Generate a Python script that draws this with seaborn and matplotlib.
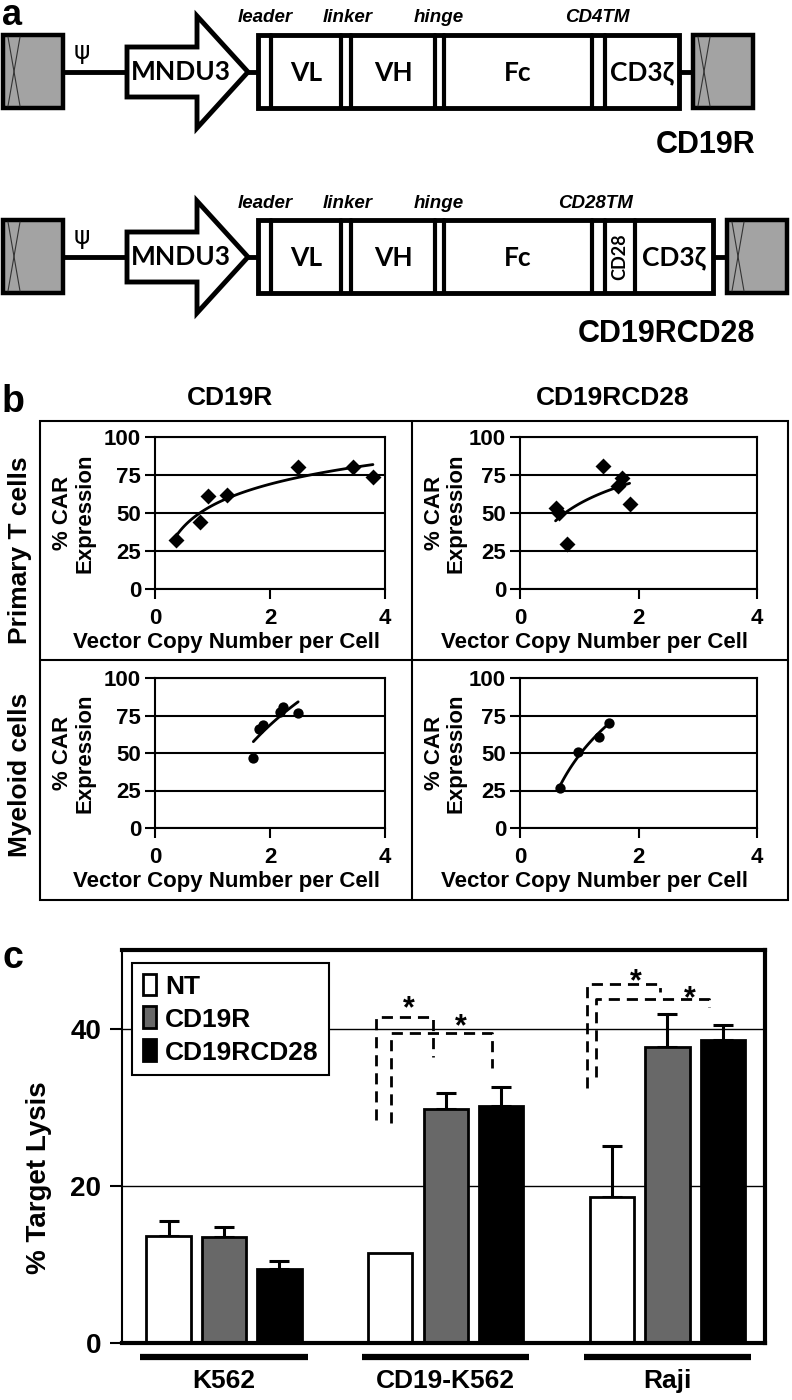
import numpy as np
import pandas as pd
import matplotlib
matplotlib.use('Agg')
import matplotlib.pyplot as plt
import matplotlib.transforms as mtransforms
from matplotlib.patches import Rectangle, Polygon
import seaborn as sns

# ---- panel b: vector copy number vs % CAR expression ----
pt_cd19r_vcn = [0.37, 0.78, 0.92, 1.25, 2.49, 3.44, 3.79]
pt_cd19r_car = [32, 44, 61, 62, 80, 80, 74]
pt_cd28_vcn = [0.60, 0.65, 0.80, 1.40, 1.65, 1.72, 1.85]
pt_cd28_car = [53, 50, 29.5, 81, 68, 73, 56]
my_cd19r_vcn = [1.71, 1.80, 1.87, 2.17, 2.23, 2.49]
my_cd19r_car = [47, 66, 69, 77.5, 81, 77]
my_cd28_vcn = [0.68, 0.98, 1.33, 1.50]
my_cd28_car = [27, 51, 61, 70]

# ---- panel c: % target lysis ----
targets = ['K562', 'CD19-K562', 'Raji']
groups = ['NT', 'CD19R', 'CD19RCD28']
lysis_nt = [13.6, 11.4, 18.6]
lysis_cd19r = [13.5, 29.8, 37.6]
lysis_cd28 = [9.4, 30.2, 38.5]
err_nt = [1.9, 0.0, 6.5]
err_cd19r = [1.3, 2.0, 4.3]
err_cd28 = [1.0, 2.4, 2.0]

sns.set_theme(style='white')
plt.rcParams['font.family'] = ['Liberation Sans', 'DejaVu Sans']
plt.rcParams['font.weight'] = 'bold'
plt.rcParams['axes.labelweight'] = 'bold'
for key in ['text.color', 'axes.labelcolor', 'xtick.color', 'ytick.color', 'axes.edgecolor']:
    plt.rcParams[key] = 'black'

W, H = 792, 1400
fig = plt.figure(figsize=(W / 100, H / 100), dpi=100)


def px_axes(x0, y0, x1, y1):
    return fig.add_axes([x0 / W, 1 - y1 / H, (x1 - x0) / W, (y1 - y0) / H])


# overlay in pixel coordinates for the diagram and panel frames
ov = fig.add_axes([0, 0, 1, 1])
ov.set_xlim(0, W)
ov.set_ylim(H, 0)
ov.axis('off')

GRAY = '#a3a3a3'
seg_font = ['Lato', 'DejaVu Sans']


def ltr_box(x0, y0):
    ov.add_patch(Rectangle((x0, y0), 60, 73, fc=GRAY, ec='black', lw=3.2, zorder=2))
    ov.plot([x0 + 5, x0 + 17], [y0 + 2, y0 + 71], color='#333333', lw=0.8, zorder=3)
    ov.plot([x0 + 17, x0 + 5], [y0 + 2, y0 + 71], color='#333333', lw=0.8, zorder=3)


def construct(y0, right, seps, segs, tags):
    ym = y0 + 37
    ltr_box(3, y0)
    ov.text(82, ym - 20, 'ψ', fontsize=18, fontweight='normal', ha='center', va='center',
            family=['DejaVu Sans'])
    ov.plot([63, 127], [ym, ym], color='black', lw=3.5, zorder=1)
    ov.add_patch(Polygon([(127, ym - 25), (197, ym - 25), (197, ym - 56), (248, ym),
                          (197, ym + 56), (197, ym + 25), (127, ym + 25)],
                         closed=True, fc='white', ec='black', lw=3.5, joinstyle='miter', zorder=2))
    ov.text(181, ym, 'MNDU3', fontsize=19, ha='center', va='center', family=seg_font, zorder=3)
    ov.plot([248, 258], [ym, ym], color='black', lw=3.5, zorder=1)
    ov.add_patch(Rectangle((258, y0), right - 258, 73, fc='white', ec='black', lw=3.5, zorder=2))
    for sx in seps:
        ov.plot([sx, sx], [y0, y0 + 73], color='black', lw=3, zorder=3)
    for lab, cx in segs:
        ov.text(cx, ym + 1, lab, fontsize=19, ha='center', va='center', family=seg_font, zorder=3)
    for lab, cx in tags:
        ov.text(cx, y0 - 17, lab, fontsize=13.5, style='italic', ha='center', va='center', zorder=3)
    ov.plot([right, right + 14], [ym, ym], color='black', lw=3.5, zorder=1)
    ltr_box(right + 14, y0)


tags1 = [('leader', 265), ('linker', 348), ('hinge', 439), ('CD4TM', 597)]
tags2 = [('leader', 265), ('linker', 348), ('hinge', 439), ('CD28TM', 596)]
construct(35, 679, [271, 341, 351, 435, 444, 592, 605],
          [('VL', 306), ('VH', 393), ('Fc', 518), ('CD3ζ', 642)], tags1)
construct(220, 713, [271, 341, 351, 435, 444, 592, 605, 635],
          [('VL', 306), ('VH', 393), ('Fc', 518), ('CD3ζ', 674)], tags2)
ov.text(620, 257, 'CD28', fontsize=13, rotation=90, ha='center', va='center', family=seg_font, zorder=3)
ov.text(755, 145, 'CD19R', fontsize=22, ha='right', va='center')
ov.text(755, 334, 'CD19RCD28', fontsize=22, ha='right', va='center')

# panel letters
ov.text(2, 25, 'a', fontsize=26, va='baseline')
ov.text(2, 412, 'b', fontsize=27, va='baseline')
ov.text(2, 968, 'c', fontsize=27, va='baseline')

# panel b frame
ov.add_patch(Rectangle((40, 421), 748, 479, fc='none', ec='black', lw=1.5))
ov.plot([412, 412], [421, 900], color='black', lw=1.5)
ov.plot([40, 788], [660, 660], color='black', lw=1.5)
ov.text(230, 398, 'CD19R', fontsize=19, ha='center', va='center')
ov.text(613, 398, 'CD19RCD28', fontsize=19, ha='center', va='center')
ov.text(20, 550, 'Primary T cells', fontsize=19, rotation=90, ha='center', va='center')
ov.text(20, 775, 'Myeloid cells', fontsize=19, rotation=90, ha='center', va='center')

# ---- panel b scatter plots ----
panels = [
    ((155, 437, 385, 589), pt_cd19r_vcn, pt_cd19r_car, 'D', -0.26, 0.309),
    ((520, 437, 757, 589), pt_cd28_vcn, pt_cd28_car, 'D', -0.224, 0.316),
    ((155, 678, 385, 828), my_cd19r_vcn, my_cd19r_car, 'o', -0.26, 0.309),
    ((520, 678, 757, 828), my_cd28_vcn, my_cd28_car, 'o', -0.224, 0.316),
]
for box, vcn, car, mk, lab_x, xlab_x in panels:
    ax = px_axes(*box)
    sns.regplot(x=np.array(vcn), y=np.array(car), logx=True, ci=None, truncate=True,
                marker=mk, ax=ax,
                scatter_kws={'s': 66 if mk == 'D' else 55, 'color': 'black', 'alpha': 1,
                             'linewidths': 0, 'zorder': 4},
                line_kws={'color': 'black', 'lw': 2, 'zorder': 3})
    ax.set_xlim(0, 4)
    ax.set_ylim(0, 100)
    ax.set_xticks([0, 2, 4])
    ax.set_yticks([0, 25, 50, 75, 100])
    ax.grid(axis='y', color='black', lw=1.5)
    ax.set_axisbelow(True)
    for sp in ax.spines.values():
        sp.set_color('black')
        sp.set_linewidth(1.5)
    ax.tick_params(axis='both', direction='out', length=7, width=1.5, color='black',
                   labelsize=16, left=True, bottom=True)
    ax.tick_params(axis='y', pad=3)
    ax.tick_params(axis='x', pad=7)
    ax.set_xlabel('Vector Copy Number per Cell', fontsize=16)
    ax.xaxis.set_label_coords(xlab_x, -0.355)
    ax.xaxis.label.set_va('center')
    ax.set_ylabel('% CAR\nExpression', fontsize=16, linespacing=1.05)
    ax.yaxis.set_label_coords(lab_x, 0.5)

# ---- panel c bar chart ----
df_c = pd.DataFrame({
    'target': targets * 3,
    'group': [g for g in groups for _ in targets],
    'lysis': lysis_nt + lysis_cd19r + lysis_cd28,
})
pal = {'NT': 'white', 'CD19R': '#686868', 'CD19RCD28': 'black'}

ax_c = px_axes(122, 950, 765, 1343)
sns.barplot(data=df_c, x='target', y='lysis', hue='group', order=targets, hue_order=groups,
            palette=pal, saturation=1, width=0.75, gap=0.2, edgecolor='black', linewidth=2,
            errorbar=None, legend=False, ax=ax_c, zorder=2)
bar_containers = list(ax_c.containers)
for cont, err in zip(bar_containers, [err_nt, err_cd19r, err_cd28]):
    xs, ys, es = [], [], []
    for b, e in zip(cont, err):
        if e > 0:
            xs.append(b.get_x() + b.get_width() / 2)
            ys.append(b.get_height())
            es.append(e)
    ax_c.errorbar(xs, ys, yerr=[np.zeros(len(es)), es], fmt='none', ecolor='black',
                  elinewidth=2.2, capsize=7, capthick=2.2, zorder=1)

ax_c.set_xlim(-0.46, 2.44)
ax_c.set_ylim(0, 50)
ax_c.set_yticks([0, 20, 40])
ax_c.grid(axis='y', color='black', lw=1)
ax_c.set_axisbelow(True)
for name, sp in ax_c.spines.items():
    sp.set_color('black')
    sp.set_linewidth(1.5 if name == 'left' else 3)
ax_c.tick_params(axis='y', direction='out', length=9, width=1.5, color='black', pad=6,
                 labelsize=20, left=True)
ax_c.tick_params(axis='x', length=0, pad=19, labelsize=19)
ax_c.set_xlabel('')
ax_c.set_ylabel('% Target Lysis', fontsize=20)
ax_c.yaxis.set_label_coords(-0.109, 0.42)

# thick underline for each target group
trans = mtransforms.blended_transform_factory(ax_c.transData, ax_c.transAxes)
for i in range(len(targets)):
    ax_c.plot([i - 0.377, i + 0.377], [-0.036, -0.036], transform=trans, color='black',
              lw=4.5, clip_on=False, solid_capstyle='butt')

# significance brackets: (x left, x right, y top, y left end, y right end, star x, star y)
sig_brackets = [
    (0.686, 0.942, 41.5, 28.4, 36.4, 0.834, 43.4),
    (0.754, 1.208, 39.5, 28.0, 35.0, 1.069, 41.1),
    (1.635, 1.968, 45.7, 32.5, 44.6, 1.859, 46.9),
    (1.680, 2.188, 43.8, 33.8, 42.8, 2.102, 44.7),
]
for xl, xr, yt, yl, yr, sx, sy in sig_brackets:
    ax_c.plot([xl, xl, xr, xr], [yl, yt, yt, yr], color='black', lw=2,
              linestyle=(0, (4, 2.5)), zorder=3)
    ax_c.text(sx, sy - 2.0, '*', fontsize=22, ha='center', va='baseline', zorder=4)

leg = ax_c.legend(bar_containers, groups, loc='upper left', bbox_to_anchor=(0.0156, 0.967),
                  borderaxespad=0, frameon=True, fancybox=False, edgecolor='black', framealpha=1,
                  fontsize=19, handlelength=0.5, handleheight=0.9, handletextpad=0.35,
                  labelspacing=0.3, borderpad=0.4)
leg.get_frame().set_linewidth(1.5)

fig.savefig('out.png', dpi=100)
